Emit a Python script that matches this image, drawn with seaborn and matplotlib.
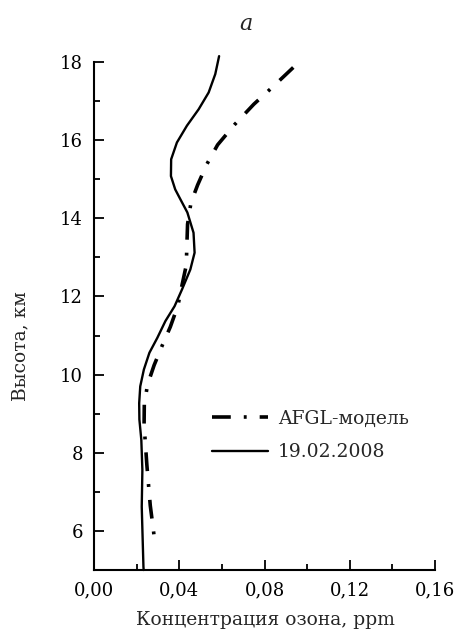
import matplotlib
matplotlib.use("Agg")
import matplotlib.pyplot as plt
import seaborn as sns
import pandas as pd
from matplotlib.ticker import MultipleLocator, FuncFormatter

# ---- data ----
obs_ppm = [0.0587, 0.0569, 0.0538, 0.0491, 0.0436, 0.0389, 0.0362, 0.0361,
           0.0381, 0.0405, 0.0438, 0.0467, 0.0472, 0.0452, 0.0413, 0.0378,
           0.0335, 0.0297, 0.0260, 0.0234, 0.0217, 0.0212, 0.0213, 0.0222,
           0.0227, 0.0224, 0.0232, 0.0233]
obs_km = [18.15, 17.69, 17.22, 16.79, 16.37, 15.94, 15.51, 15.08,
          14.74, 14.49, 14.15, 13.63, 13.12, 12.69, 12.18, 11.75,
          11.37, 10.94, 10.56, 10.13, 9.70, 9.27, 8.85, 8.33,
          7.56, 6.62, 5.08, 5.0]

afgl_ppm = [0.0935, 0.0842, 0.0750, 0.0660, 0.0580, 0.0529, 0.0486, 0.0455,
            0.0439, 0.0436, 0.0433, 0.0413, 0.0394, 0.0358, 0.0322, 0.0282,
            0.0251, 0.0236, 0.0235, 0.0248, 0.0264, 0.0279, 0.0287]
afgl_km = [17.86, 17.38, 16.92, 16.40, 15.88, 15.38, 14.85, 14.40,
           13.85, 13.35, 12.80, 12.29, 11.77, 11.22, 10.77, 10.24,
           9.74, 9.23, 8.72, 7.69, 6.65, 6.01, 5.62]

labels = ["AFGL-модель", "19.02.2008"]
x_ticks = [0.00, 0.04, 0.08, 0.12, 0.16]
y_ticks = [6, 8, 10, 12, 14, 16, 18]

sns.set_style("ticks")
plt.rcParams['font.family'] = ['DejaVu Serif']
FS = 13.5

fig = plt.figure(figsize=(4.54, 6.32), dpi=100)
ax = fig.add_axes([94/454, 1-570/632, (435-94)/454, (570-62)/632])

df_afgl = pd.DataFrame({"ppm": afgl_ppm, "km": afgl_km})
df_obs = pd.DataFrame({"ppm": obs_ppm, "km": obs_km})

sns.lineplot(data=df_afgl, x="ppm", y="km", sort=False, estimator=None,
             color="black", lw=2.6, ax=ax, label=labels[0])
sns.lineplot(data=df_obs, x="ppm", y="km", sort=False, estimator=None,
             color="black", lw=1.7, ax=ax, label=labels[1])
ax.lines[0].set_dashes((5.2, 3.6, 0.8, 3.6))
for ln in ax.lines:
    ln.set_clip_on(False)
    ln.set_dash_capstyle('butt')
    ln.set_solid_joinstyle('round')

ax.set_xlim(0, 0.16)
ax.set_ylim(5, 18)
ax.set_xticks(x_ticks)
ax.set_yticks(y_ticks)
ax.xaxis.set_minor_locator(MultipleLocator(0.02))
ax.yaxis.set_minor_locator(MultipleLocator(1))
ax.xaxis.set_major_formatter(FuncFormatter(lambda v, p: f"{v:.2f}".replace('.', ',')))
ax.tick_params(which='both', direction='in', width=1.3, labelsize=13, colors='black')
ax.tick_params(which='major', length=7)
ax.tick_params(which='minor', length=4)
ax.tick_params(axis='x', pad=8)
ax.tick_params(axis='y', pad=8)
sns.despine(ax=ax)
for s in ['left', 'bottom']:
    ax.spines[s].set_linewidth(1.5)
    ax.spines[s].set_color('black')

ax.set_xlabel("")
ax.set_ylabel("")
fig.text(265/454, 1-625/632, "Концентрация озона, ppm", fontsize=FS,
         ha='center', va='baseline')
fig.text(20/454, 1-346/632, "Высота, км", fontsize=FS, rotation=90,
         ha='center', va='center')

fig.text(246/454, 1-30/632, "a", fontsize=16, style='italic', ha='center', va='baseline')

leg = ax.legend(loc='upper left', bbox_to_anchor=(212/454, 1-410/632),
                bbox_transform=fig.transFigure, frameon=False, fontsize=FS,
                handlelength=3.0, handletextpad=0.5, labelspacing=0.82,
                borderpad=0, borderaxespad=0)

fig.savefig("out.png", dpi=100)
